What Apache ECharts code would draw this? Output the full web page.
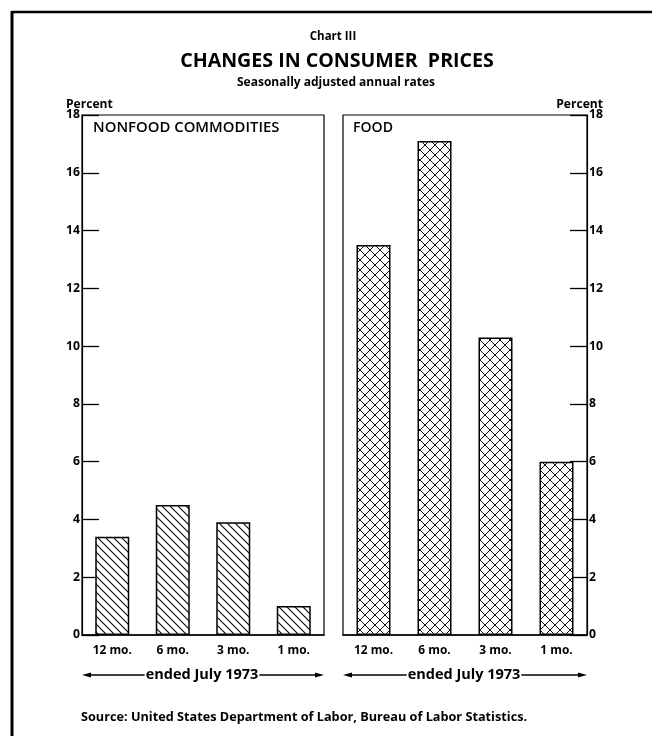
<!DOCTYPE html>
<html>
<head>
<meta charset="utf-8">
<script src="https://cdn.jsdelivr.net/npm/echarts@6/dist/echarts.min.js"></script>
<style>
  html, body { margin: 0; padding: 0; background: #fff; }
  #chart { width: 652px; height: 736px; }
</style>
</head>
<body>
<div id="chart"></div>
<script>
// data
const categories = ['12 mo.', '6 mo.', '3 mo.', '1 mo.'];
const nonfoodValues = [3.4, 4.5, 3.9, 1.0];
const foodValues = [13.5, 17.1, 10.3, 6.0];
const yMin = 0;
const yMax = 18;
const yStep = 2;

// layout
const FONT = '"Open Sans", "DejaVu Sans", sans-serif';
const plotTop = 115;
const plotBottom = 635;
const leftPanel = { x0: 82, x1: 324 };
const rightPanel = { x0: 343, x1: 587 };

// the original typeface is wide, so size each text to the width it has in the scan
const measurer = document.createElement('canvas').getContext('2d');
function fitSize(text, weight, width) {
  measurer.font = weight + ' 100px ' + FONT;
  return Math.round(1000 * width / measurer.measureText(text).width) / 10;
}
const tickSize = fitSize('16', 'bold', 14);
const catSize = fitSize('12 mo.', 'bold', 39);

// hatch patterns drawn on small canvases
function hatch(size, cross, width) {
  const c = document.createElement('canvas');
  c.width = size;
  c.height = size;
  const g = c.getContext('2d');
  g.fillStyle = '#fff';
  g.fillRect(0, 0, size, size);
  g.strokeStyle = '#111';
  g.lineWidth = width;
  g.beginPath();
  // "\" lines
  g.moveTo(-2, -2); g.lineTo(size + 2, size + 2);
  g.moveTo(-2, size - 2); g.lineTo(2, size + 2);
  g.moveTo(size - 2, -2); g.lineTo(size + 2, 2);
  if (cross) {
    // "/" lines
    g.moveTo(-2, size + 2); g.lineTo(size + 2, -2);
    g.moveTo(-2, 2); g.lineTo(2, -2);
    g.moveTo(size - 2, size + 2); g.lineTo(size + 2, size - 2);
  }
  g.stroke();
  return c;
}

const chart = echarts.init(document.getElementById('chart'), null, { renderer: 'canvas' });

function xAxisFor(grid) {
  return {
    gridIndex: grid,
    type: 'category',
    data: categories,
    axisTick: { show: false },
    axisLine: { lineStyle: { color: '#000', width: 1.5 } },
    axisLabel: { color: '#000', fontFamily: FONT, fontWeight: 'bold', fontSize: catSize, margin: 10 }
  };
}

function yAxisFor(grid, pos) {
  return {
    gridIndex: grid,
    type: 'value',
    position: pos,
    min: yMin,
    max: yMax,
    interval: yStep,
    axisLine: { show: true, lineStyle: { color: '#000', width: 1.2 } },
    axisTick: { show: true, inside: true, length: 17, lineStyle: { color: '#000', width: 1.3 } },
    axisLabel: { color: '#000', fontFamily: FONT, fontWeight: 'bold', fontSize: tickSize, margin: 2 },
    splitLine: { show: false }
  };
}

function text(x, y, str, width, weight, align) {
  const w = weight || 'bold';
  return { type: 'text', z: 2, x: x, y: y, style: {
    text: str, font: w + ' ' + fitSize(str, w, width) + 'px ' + FONT, fill: '#000',
    textAlign: align || 'left', textVerticalAlign: 'middle'
  } };
}

function arrowRow(p, y) {
  const mid = (p.x0 + p.x1) / 2 - 1;
  const t = text(mid, y, 'ended July 1973', 113, 'bold', 'center');
  t.style.backgroundColor = '#fff';
  t.style.padding = [0, 1];
  return [
    { type: 'line', z: 1, shape: { x1: p.x0 + 4, y1: y, x2: p.x1 - 4, y2: y }, style: { stroke: '#000', lineWidth: 1.3 } },
    { type: 'polygon', z: 1, shape: { points: [[p.x0, y], [p.x0 + 9, y - 2.5], [p.x0 + 9, y + 2.5]] }, style: { fill: '#000' } },
    { type: 'polygon', z: 1, shape: { points: [[p.x1, y], [p.x1 - 9, y - 2.5], [p.x1 - 9, y + 2.5]] }, style: { fill: '#000' } },
    t
  ];
}

const option = {
  backgroundColor: '#fff',
  animation: false,
  grid: [
    { left: leftPanel.x0, right: 652 - leftPanel.x1, top: plotTop, bottom: 736 - plotBottom,
      show: true, borderColor: '#000', borderWidth: 1.2 },
    { left: rightPanel.x0, right: 652 - rightPanel.x1, top: plotTop, bottom: 736 - plotBottom,
      show: true, borderColor: '#000', borderWidth: 1.2 }
  ],
  xAxis: [xAxisFor(0), xAxisFor(1)],
  yAxis: [yAxisFor(0, 'left'), yAxisFor(1, 'right')],
  series: [
    {
      name: 'Nonfood commodities', type: 'bar', xAxisIndex: 0, yAxisIndex: 0,
      data: nonfoodValues, barWidth: 34,
      itemStyle: { color: { image: hatch(8, false, 1.2), repeat: 'repeat' }, borderColor: '#000', borderWidth: 1.5 }
    },
    {
      name: 'Food', type: 'bar', xAxisIndex: 1, yAxisIndex: 1,
      data: foodValues, barWidth: 34,
      itemStyle: { color: { image: hatch(10, true, 1), repeat: 'repeat' }, borderColor: '#000', borderWidth: 1.5 }
    }
  ],
  graphic: [
    // outer frame (only the top and left edges are in the scan)
    { type: 'line', shape: { x1: 12, y1: 12, x2: 652, y2: 12 }, style: { stroke: '#000', lineWidth: 2.5 } },
    { type: 'line', shape: { x1: 12, y1: 11, x2: 12, y2: 736 }, style: { stroke: '#000', lineWidth: 3 } },
    { type: 'text', x: 333, y: 37, style: { text: 'Chart III', font: 'bold 11.5px ' + FONT, fill: '#000', textAlign: 'center', textVerticalAlign: 'middle' } },
    text(337, 61, 'CHANGES IN CONSUMER  PRICES', 313, 'bold', 'center'),
    text(336, 83, 'Seasonally adjusted annual rates', 198, 'bold', 'center'),
    text(66, 105, 'Percent', 47),
    text(603, 105, 'Percent', 47, 'bold', 'right'),
    text(93, 128, 'NONFOOD COMMODITIES', 186, '600'),
    text(353, 128, 'FOOD', 40, '600'),
    ...arrowRow(leftPanel, 675),
    ...arrowRow(rightPanel, 675),
    text(81, 717, 'Source: United States Department of Labor, Bureau of Labor Statistics.', 448)
  ]
};

chart.setOption(option);
</script>
</body>
</html>
